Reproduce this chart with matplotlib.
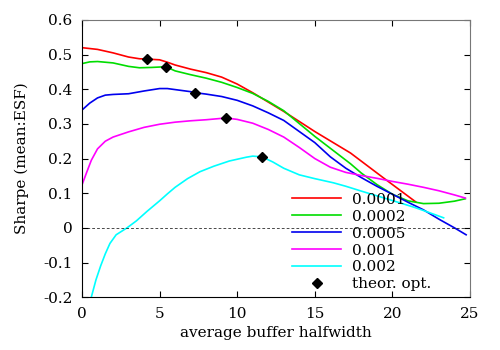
import matplotlib
matplotlib.use("Agg")
import matplotlib.pyplot as plt

# Sharpe vs average buffer halfwidth, one curve per cost level
labels = ["0.0001", "0.0002", "0.0005", "0.001", "0.002"]
colors = ["#ff0000", "#00dd00", "#0000ee", "#ff00ff", "#00ffff"]

red_x = [0, 1, 2, 3, 3.7, 4.2, 5, 5.5, 6, 7, 8, 9, 10, 11, 12, 13, 15, 17.3, 19.4, 21.5]
red_y = [0.52, 0.515, 0.505, 0.493, 0.488, 0.487, 0.485, 0.478, 0.47, 0.458, 0.448, 0.435,
         0.415, 0.39, 0.363, 0.336, 0.278, 0.216, 0.145, 0.075]

green_x = [0, 0.5, 1, 2, 3, 3.7, 4.5, 5.4, 6, 7, 8, 9, 10, 11, 12, 13, 15, 17.3, 18, 19, 20,
           21, 22, 23, 24, 24.7]
green_y = [0.474, 0.479, 0.48, 0.476, 0.466, 0.462, 0.463, 0.465, 0.453, 0.442, 0.432, 0.42,
           0.405, 0.388, 0.365, 0.338, 0.264, 0.185, 0.158, 0.125, 0.097, 0.078, 0.07, 0.071,
           0.077, 0.084]

blue_x = [0, 0.5, 1, 1.5, 2, 3, 4, 5, 5.5, 6, 7, 7.3, 8, 9, 10, 11, 12, 13, 14, 15, 16, 17,
          18, 19, 20, 21, 22, 23, 24, 24.75]
blue_y = [0.34, 0.36, 0.375, 0.383, 0.385, 0.387, 0.395, 0.402, 0.402, 0.399, 0.393, 0.39,
          0.386, 0.379, 0.368, 0.352, 0.332, 0.31, 0.278, 0.246, 0.205, 0.172, 0.145, 0.12,
          0.097, 0.074, 0.052, 0.025, 0.0, -0.02]

mag_x = [0, 0.3, 0.6, 1, 1.5, 2, 3, 4, 5, 6, 7, 8, 9, 9.3, 10, 11, 12, 13, 14, 15, 16, 17,
         18, 19, 20, 21, 22, 23, 24, 24.7]
mag_y = [0.124, 0.16, 0.195, 0.228, 0.25, 0.262, 0.277, 0.29, 0.299, 0.305, 0.309, 0.312,
         0.316, 0.317, 0.313, 0.302, 0.284, 0.262, 0.232, 0.2, 0.175, 0.16, 0.151, 0.143,
         0.134, 0.126, 0.117, 0.107, 0.095, 0.086]

cyan_x = [0.6, 0.9, 1.2, 1.5, 1.8, 2.2, 2.9, 3.5, 4.2, 5, 5.5, 6, 6.8, 7.6, 8.5, 9.5, 10.6,
          11, 11.6, 12.3, 13, 14, 15, 16.2, 17, 18, 19.4, 20.5, 21.5, 22.5, 23.3]
cyan_y = [-0.2, -0.15, -0.11, -0.075, -0.045, -0.02, 0.0, 0.02, 0.048, 0.078, 0.098, 0.117,
          0.142, 0.162, 0.178, 0.193, 0.204, 0.207, 0.205, 0.19, 0.172, 0.153, 0.142, 0.13,
          0.12, 0.106, 0.087, 0.072, 0.058, 0.042, 0.029]

opt_x = [4.2, 5.4, 7.3, 9.3, 11.6]
opt_y = [0.488, 0.465, 0.39, 0.317, 0.205]

plt.rcParams["font.family"] = ["DejaVu Serif"]
plt.rcParams["font.size"] = 11

fig = plt.figure(figsize=(5, 3.5), dpi=100)
ax = fig.add_axes([0.164, 0.151, 0.776, 0.792])

series = [(red_x, red_y), (green_x, green_y), (blue_x, blue_y), (mag_x, mag_y), (cyan_x, cyan_y)]
for (xs, ys), lab, col in zip(series, labels, colors):
    ax.plot(xs, ys, color=col, lw=1.2, label=lab)

ax.axhline(0, color="black", lw=0.5, ls=(0, (4, 3)))
ax.plot(opt_x, opt_y, "D", color="black", ms=5.5, ls="none", label="theor. opt.")

ax.set_xlim(0, 25)
ax.set_ylim(-0.2, 0.6)
ax.set_xticks([0, 5, 10, 15, 20, 25])
ax.set_yticks([-0.2, -0.1, 0, 0.1, 0.2, 0.3, 0.4, 0.5, 0.6])
ax.set_yticklabels(["-0.2", "-0.1", "0", "0.1", "0.2", "0.3", "0.4", "0.5", "0.6"])
ax.tick_params(direction="in", top=True, right=True, length=4, width=0.8, pad=7)
for side in ["top", "right"]:
    ax.spines[side].set_color("#777777")
ax.set_xlabel("average buffer halfwidth", labelpad=4)
ax.set_ylabel("Sharpe (mean:ESF)", labelpad=10)

ax.legend(loc="lower right", bbox_to_anchor=(0.9, 0.021), frameon=False,
          handlelength=3.2, labelspacing=0.19, handletextpad=0.7, borderpad=0.0,
          borderaxespad=0.0, fontsize=11)

fig.savefig("out.png", dpi=100)
